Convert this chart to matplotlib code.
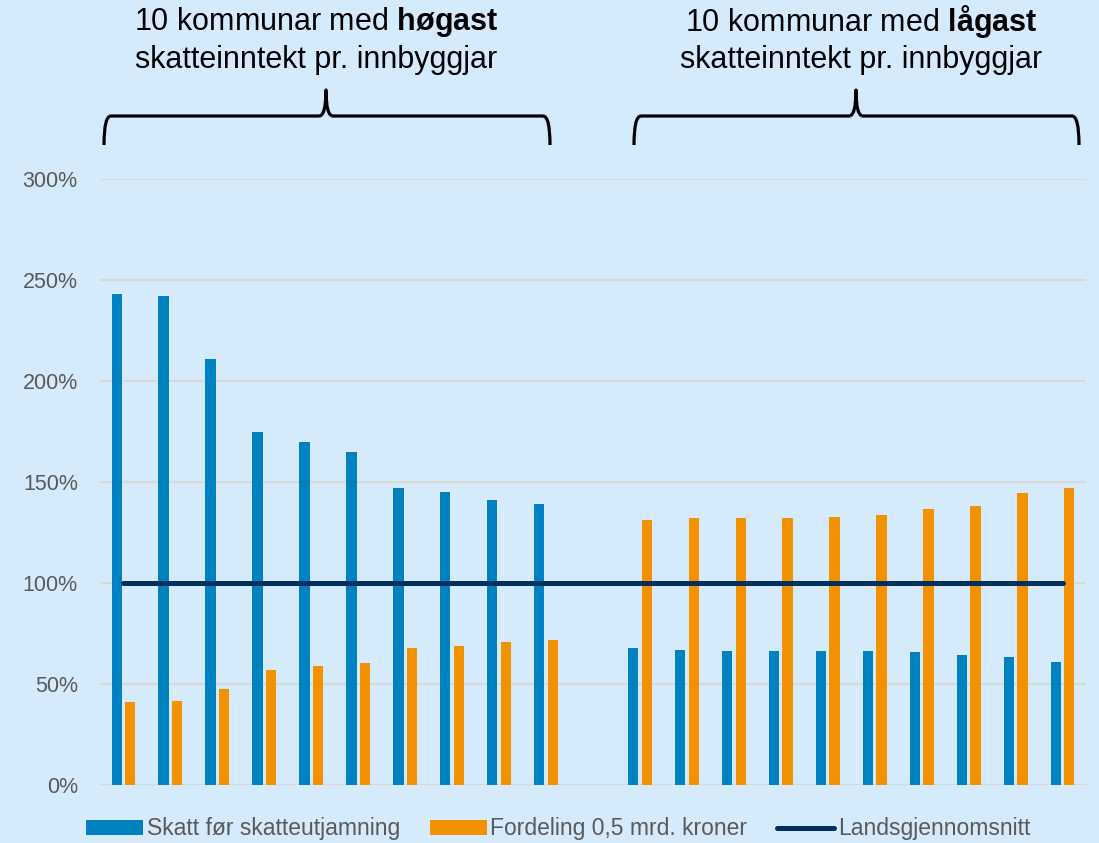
import numpy as np
import matplotlib.pyplot as plt
from matplotlib.path import Path
from matplotlib.patches import PathPatch
from matplotlib.transforms import Affine2D

plt.rcParams['font.family'] = ['Liberation Sans', 'DejaVu Sans']
plt.rcParams['mathtext.fontset'] = 'custom'
plt.rcParams['mathtext.rm'] = 'Liberation Sans'
plt.rcParams['mathtext.bf'] = 'Liberation Sans:bold'

# ============================================
# DATA (prosent av landsgjennomsnittet)
# ============================================
skatt_hoy = [243, 242, 211, 175, 170, 165, 147, 145, 141, 139]
fordeling_hoy = [41, 41.5, 47.5, 57, 59, 60.5, 68, 69, 71, 72]
skatt_lav = [68, 67, 66.5, 66.5, 66.5, 66.3, 65.6, 64.5, 63.6, 60.7]
fordeling_lav = [131, 132, 132, 132.3, 132.8, 133.8, 136.4, 138.3, 144.5, 147.1]
landsgjennomsnitt = [100] * 21

# 10 + tom kolonne + 10
skatt = skatt_hoy + [np.nan] + skatt_lav
fordeling = fordeling_hoy + [np.nan] + fordeling_lav
x = np.arange(len(skatt))

bg = '#D5EBFB'
blaa = '#0082C0'
oransje = '#F39200'
marine = '#00305F'
graa = '#595959'

W, H = 1099, 843
fig = plt.figure(figsize=(W / 100, H / 100), dpi=100, facecolor=bg)
ax = fig.add_axes([100 / W, 1 - 785 / H, 986 / W, 606 / H], facecolor=bg)

bw = 0.22
off = 0.145
b1 = ax.bar(x - off, skatt, width=bw, color=blaa, label='Skatt før skatteutjamning', zorder=2)
b2 = ax.bar(x + off, fordeling, width=bw, color=oransje, label='Fordeling 0,5 mrd. kroner', zorder=2)
l1, = ax.plot(x, landsgjennomsnitt, color=marine, lw=3.6, solid_capstyle='round',
              label='Landsgjennomsnitt', zorder=3)

ax.set_xlim(-0.5, len(x) - 0.5)
ax.set_ylim(0, 300)
ax.set_yticks(np.arange(0, 301, 50))
ax.set_yticklabels([f'{v}%' for v in range(0, 301, 50)])
ax.set_xticks([])
ax.tick_params(axis='y', length=0, pad=16, labelsize=15.5, labelcolor=graa)
ax.grid(axis='y', color='#D9D9D9', lw=1.5, zorder=0)
for s in ax.spines.values():
    s.set_visible(False)

fig.legend([b1, b2, l1], [b1.get_label(), b2.get_label(), l1.get_label()],
           loc='center', bbox_to_anchor=(558 / W, 14 / H), ncol=3, frameon=False,
           fontsize=16.5, labelcolor=graa, handlelength=2.5, handleheight=0.65,
           handletextpad=0.15, columnspacing=1.3, borderpad=0)

# ============================================
# Overskrifter og klammer
# ============================================
px = Affine2D().scale(1 / W, -1 / H).translate(0, 1) + fig.transFigure


def klamme(x0, x1, xm, ytopp=90, ylinje=116, ybunn=145, r=7):
    verts = [(x0, ybunn), (x0, ylinje), (x0 + r, ylinje),
             (xm - r, ylinje), (xm, ylinje), (xm, ytopp),
             (xm, ylinje), (xm + r, ylinje),
             (x1 - r, ylinje), (x1, ylinje), (x1, ybunn)]
    codes = [Path.MOVETO, Path.CURVE3, Path.CURVE3,
             Path.LINETO, Path.CURVE3, Path.CURVE3,
             Path.CURVE3, Path.CURVE3,
             Path.LINETO, Path.CURVE3, Path.CURVE3]
    fig.patches.append(PathPatch(Path(verts, codes), transform=px, fill=False,
                                 lw=2.3, ec='black', joinstyle='round'))


klamme(104, 550, 326)
klamme(634, 1079, 856)

for cx, ord_ in [(316, 'høgast'), (861, 'lågast')]:
    fig.text(cx / W, 1 - 22 / H, '10 kommunar med ' + r'$\bf{' + ord_ + '}$',
             ha='center', va='center', fontsize=22)
    fig.text(cx / W, 1 - 60 / H, 'skatteinntekt pr. innbyggjar',
             ha='center', va='center', fontsize=22)

plt.savefig('out.png', dpi=100, facecolor=bg)
